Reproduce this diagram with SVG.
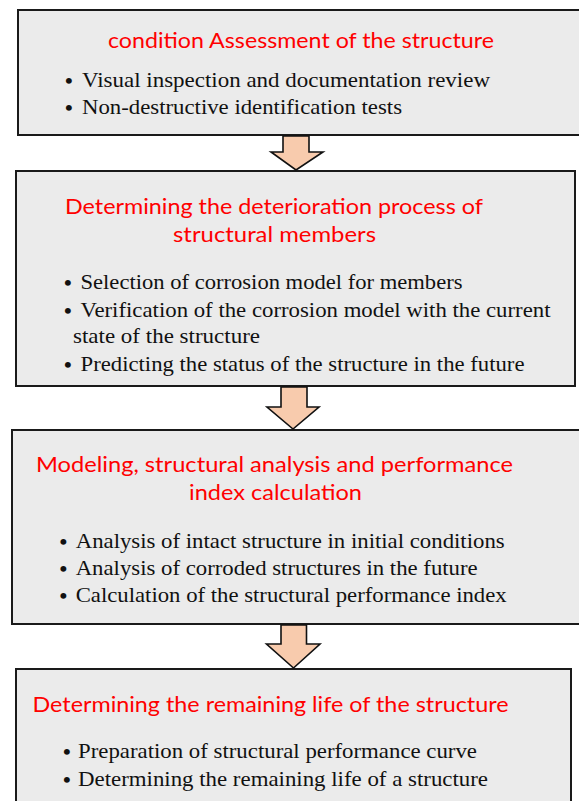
<svg xmlns="http://www.w3.org/2000/svg" width="579" height="801" viewBox="0 0 579 801">
<style>
.box{fill:#ebebeb;stroke:#1a1a1a;stroke-width:2}
.title{font-family:Lato,"Liberation Sans",sans-serif;font-size:22px;fill:#ff0000}
.item{font-family:"Liberation Serif","Times New Roman",serif;font-size:21px;fill:#111}
.dot{font-family:"Liberation Serif","Times New Roman",serif;font-size:22px;font-weight:bold;fill:#111}
.arrow{fill:#f8cbad;stroke:#111;stroke-width:1.6;stroke-linejoin:miter}
</style>
<rect width="579" height="801" fill="#ffffff"/>
<g id="node1">
<rect class="box" x="18" y="10" width="570" height="125"/>
<text class="title" x="108" y="48" textLength="386" lengthAdjust="spacingAndGlyphs">condition Assessment of the structure</text>
<text class="dot" x="65" y="88">•</text>
<text class="item" x="82" y="87" textLength="408" lengthAdjust="spacingAndGlyphs">Visual inspection and documentation review</text>
<text class="dot" x="65" y="115">•</text>
<text class="item" x="82" y="114" textLength="320" lengthAdjust="spacingAndGlyphs">Non-destructive identification tests</text>
</g>
<g id="node2">
<rect class="box" x="16" y="171" width="559" height="215"/>
<text class="title" x="65" y="214" textLength="418" lengthAdjust="spacingAndGlyphs">Determining the deterioration process of</text>
<text class="title" x="173" y="242" textLength="203" lengthAdjust="spacingAndGlyphs">structural members</text>
<text class="dot" x="64" y="290">•</text>
<text class="item" x="80.5" y="289" textLength="382" lengthAdjust="spacingAndGlyphs">Selection of corrosion model for members</text>
<text class="dot" x="64" y="318">•</text>
<text class="item" x="80.5" y="317" textLength="470" lengthAdjust="spacingAndGlyphs">Verification of the corrosion model with the current</text>
<text class="item" x="73" y="343" textLength="187" lengthAdjust="spacingAndGlyphs">state of the structure</text>
<text class="dot" x="64" y="372">•</text>
<text class="item" x="80.5" y="371" textLength="444" lengthAdjust="spacingAndGlyphs">Predicting the status of the structure in the future</text>
</g>
<g id="node3">
<rect class="box" x="12" y="430" width="580" height="194"/>
<text class="title" x="36" y="472" textLength="477" lengthAdjust="spacingAndGlyphs">Modeling, structural analysis and performance</text>
<text class="title" x="189" y="500" textLength="173" lengthAdjust="spacingAndGlyphs">index calculation</text>
<text class="dot" x="59.5" y="549">•</text>
<text class="item" x="75.7" y="548" textLength="429" lengthAdjust="spacingAndGlyphs">Analysis of intact structure in initial conditions</text>
<text class="dot" x="59.5" y="576">•</text>
<text class="item" x="75.7" y="575" textLength="402" lengthAdjust="spacingAndGlyphs">Analysis of corroded structures in the future</text>
<text class="dot" x="59.5" y="603">•</text>
<text class="item" x="75.7" y="602" textLength="431" lengthAdjust="spacingAndGlyphs">Calculation of the structural performance index</text>
</g>
<g id="node4">
<rect class="box" x="16" y="669" width="555" height="150"/>
<text class="title" x="32.5" y="712" textLength="476" lengthAdjust="spacingAndGlyphs">Determining the remaining life of the structure</text>
<text class="dot" x="63" y="759">•</text>
<text class="item" x="78" y="758" textLength="399" lengthAdjust="spacingAndGlyphs">Preparation of structural performance curve</text>
<text class="dot" x="63" y="787">•</text>
<text class="item" x="78" y="786" textLength="410" lengthAdjust="spacingAndGlyphs">Determining the remaining life of a structure</text>
</g>
<g id="connectors">
<path class="arrow" d="M283,136 L309,136 L309,152 L323,152 L296,170 L271,152 L283,152 Z"/>
<path class="arrow" d="M281,387 L307,387 L307,407 L319,407 L293,429 L267,407 L281,407 Z"/>
<path class="arrow" d="M281,625 L306.5,625 L306.5,644 L320,644 L293.5,668 L266.5,644 L281,644 Z"/>
</g>
</svg>
